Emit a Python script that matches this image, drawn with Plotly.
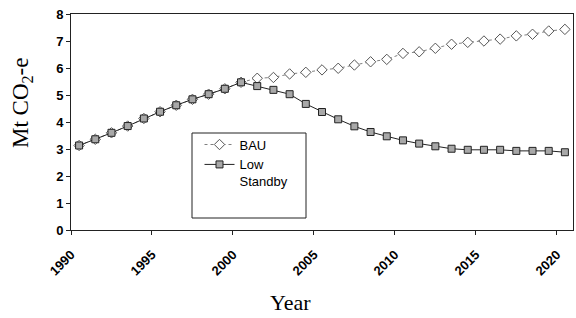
import plotly.graph_objects as go

years = list(range(1990, 2021))
low_standby = [3.13, 3.36, 3.60, 3.85, 4.13, 4.38, 4.62, 4.84, 5.03, 5.23, 5.47,
               5.33, 5.19, 5.03, 4.67, 4.37, 4.10, 3.84, 3.63, 3.47, 3.32, 3.20,
               3.10, 3.01, 2.97, 2.97, 2.97, 2.93, 2.93, 2.93, 2.88]
bau = [3.13, 3.36, 3.60, 3.85, 4.13, 4.38, 4.62, 4.84, 5.03, 5.23, 5.47,
       5.62, 5.65, 5.78, 5.84, 5.93, 5.99, 6.11, 6.23, 6.32, 6.54, 6.60,
       6.73, 6.88, 6.95, 7.00, 7.07, 7.19, 7.25, 7.37, 7.43]
tick_labels = ["1990", "1995", "2000", "2005", "2010", "2015", "2020"]
tick_positions = [1989.5, 1994.5, 1999.5, 2004.5, 2009.5, 2014.5, 2019.5]

fig = go.Figure()
fig.add_trace(go.Scatter(
    x=years, y=bau, name="BAU", mode="lines+markers",
    line=dict(color="#808080", width=1, dash="dot"),
    marker=dict(symbol="diamond", size=8, color="white",
                line=dict(color="#555555", width=1)),
))
fig.add_trace(go.Scatter(
    x=years, y=low_standby, name="Low<br>Standby", mode="lines+markers",
    line=dict(color="#222222", width=1),
    marker=dict(symbol="square", size=7, color="#a8a8a8",
                line=dict(color="#222222", width=1)),
))

fig.update_layout(
    width=576, height=318,
    margin=dict(l=71, r=3, t=14, b=88, autoexpand=False),
    paper_bgcolor="white", plot_bgcolor="white",
    font=dict(family="Liberation Sans, Arial", color="black"),
    showlegend=True,
    legend=dict(x=0.256, y=0.465, xanchor="left", yanchor="top",
                bgcolor="rgba(255,255,255,0)", borderwidth=0,
                font=dict(size=13, family="Liberation Sans, Arial"),
                valign="top"),
    shapes=[dict(type="rect", xref="paper", yref="paper",
                 x0=(192 - 71) / 502, x1=(306 - 71) / 502,
                 y0=(230 - 218) / 216, y1=(230 - 133) / 216,
                 line=dict(color="#222222", width=1), fillcolor="white",
                 layer="below")],
    annotations=[
        dict(text="Mt CO<sub>2</sub>-e", xref="paper", yref="paper",
             x=(22 - 71) / 502, y=(230 - 103) / 216, showarrow=False,
             xanchor="center", yanchor="middle",
             textangle=-90, font=dict(family="Liberation Serif, Times New Roman",
                                      size=23, color="black")),
        dict(text="Year", xref="paper", yref="paper",
             x=(290 - 71) / 502, y=(230 - 302) / 216, showarrow=False,
             xanchor="center", yanchor="middle",
             font=dict(family="Liberation Serif, Times New Roman",
                       size=22, color="black")),
    ],
)
fig.update_xaxes(
    range=[1989.5, 2020.5], tickmode="array", tickvals=tick_positions,
    ticktext=tick_labels, tickangle=-45, ticks="outside", ticklen=4,
    tickcolor="#222222", showgrid=False, zeroline=False, automargin=False,
    showline=True, linecolor="#222222", linewidth=1, mirror=True,
    ticklabelstandoff=7,
    tickfont=dict(size=13, family="Liberation Sans, Arial", color="black",
                  weight="bold"),
)
fig.update_yaxes(
    range=[0, 8], dtick=1, ticks="outside", ticklen=4, tickcolor="#222222",
    showgrid=False, zeroline=False, showline=True, linecolor="#222222",
    linewidth=1, mirror=True, automargin=False,
    tickfont=dict(size=13, family="Liberation Sans, Arial", weight="bold"),
)

fig.write_html("out.html", config={"displayModeBar": False},
               post_script="document.body.style.margin='0px';document.body.style.overflow='hidden';")
